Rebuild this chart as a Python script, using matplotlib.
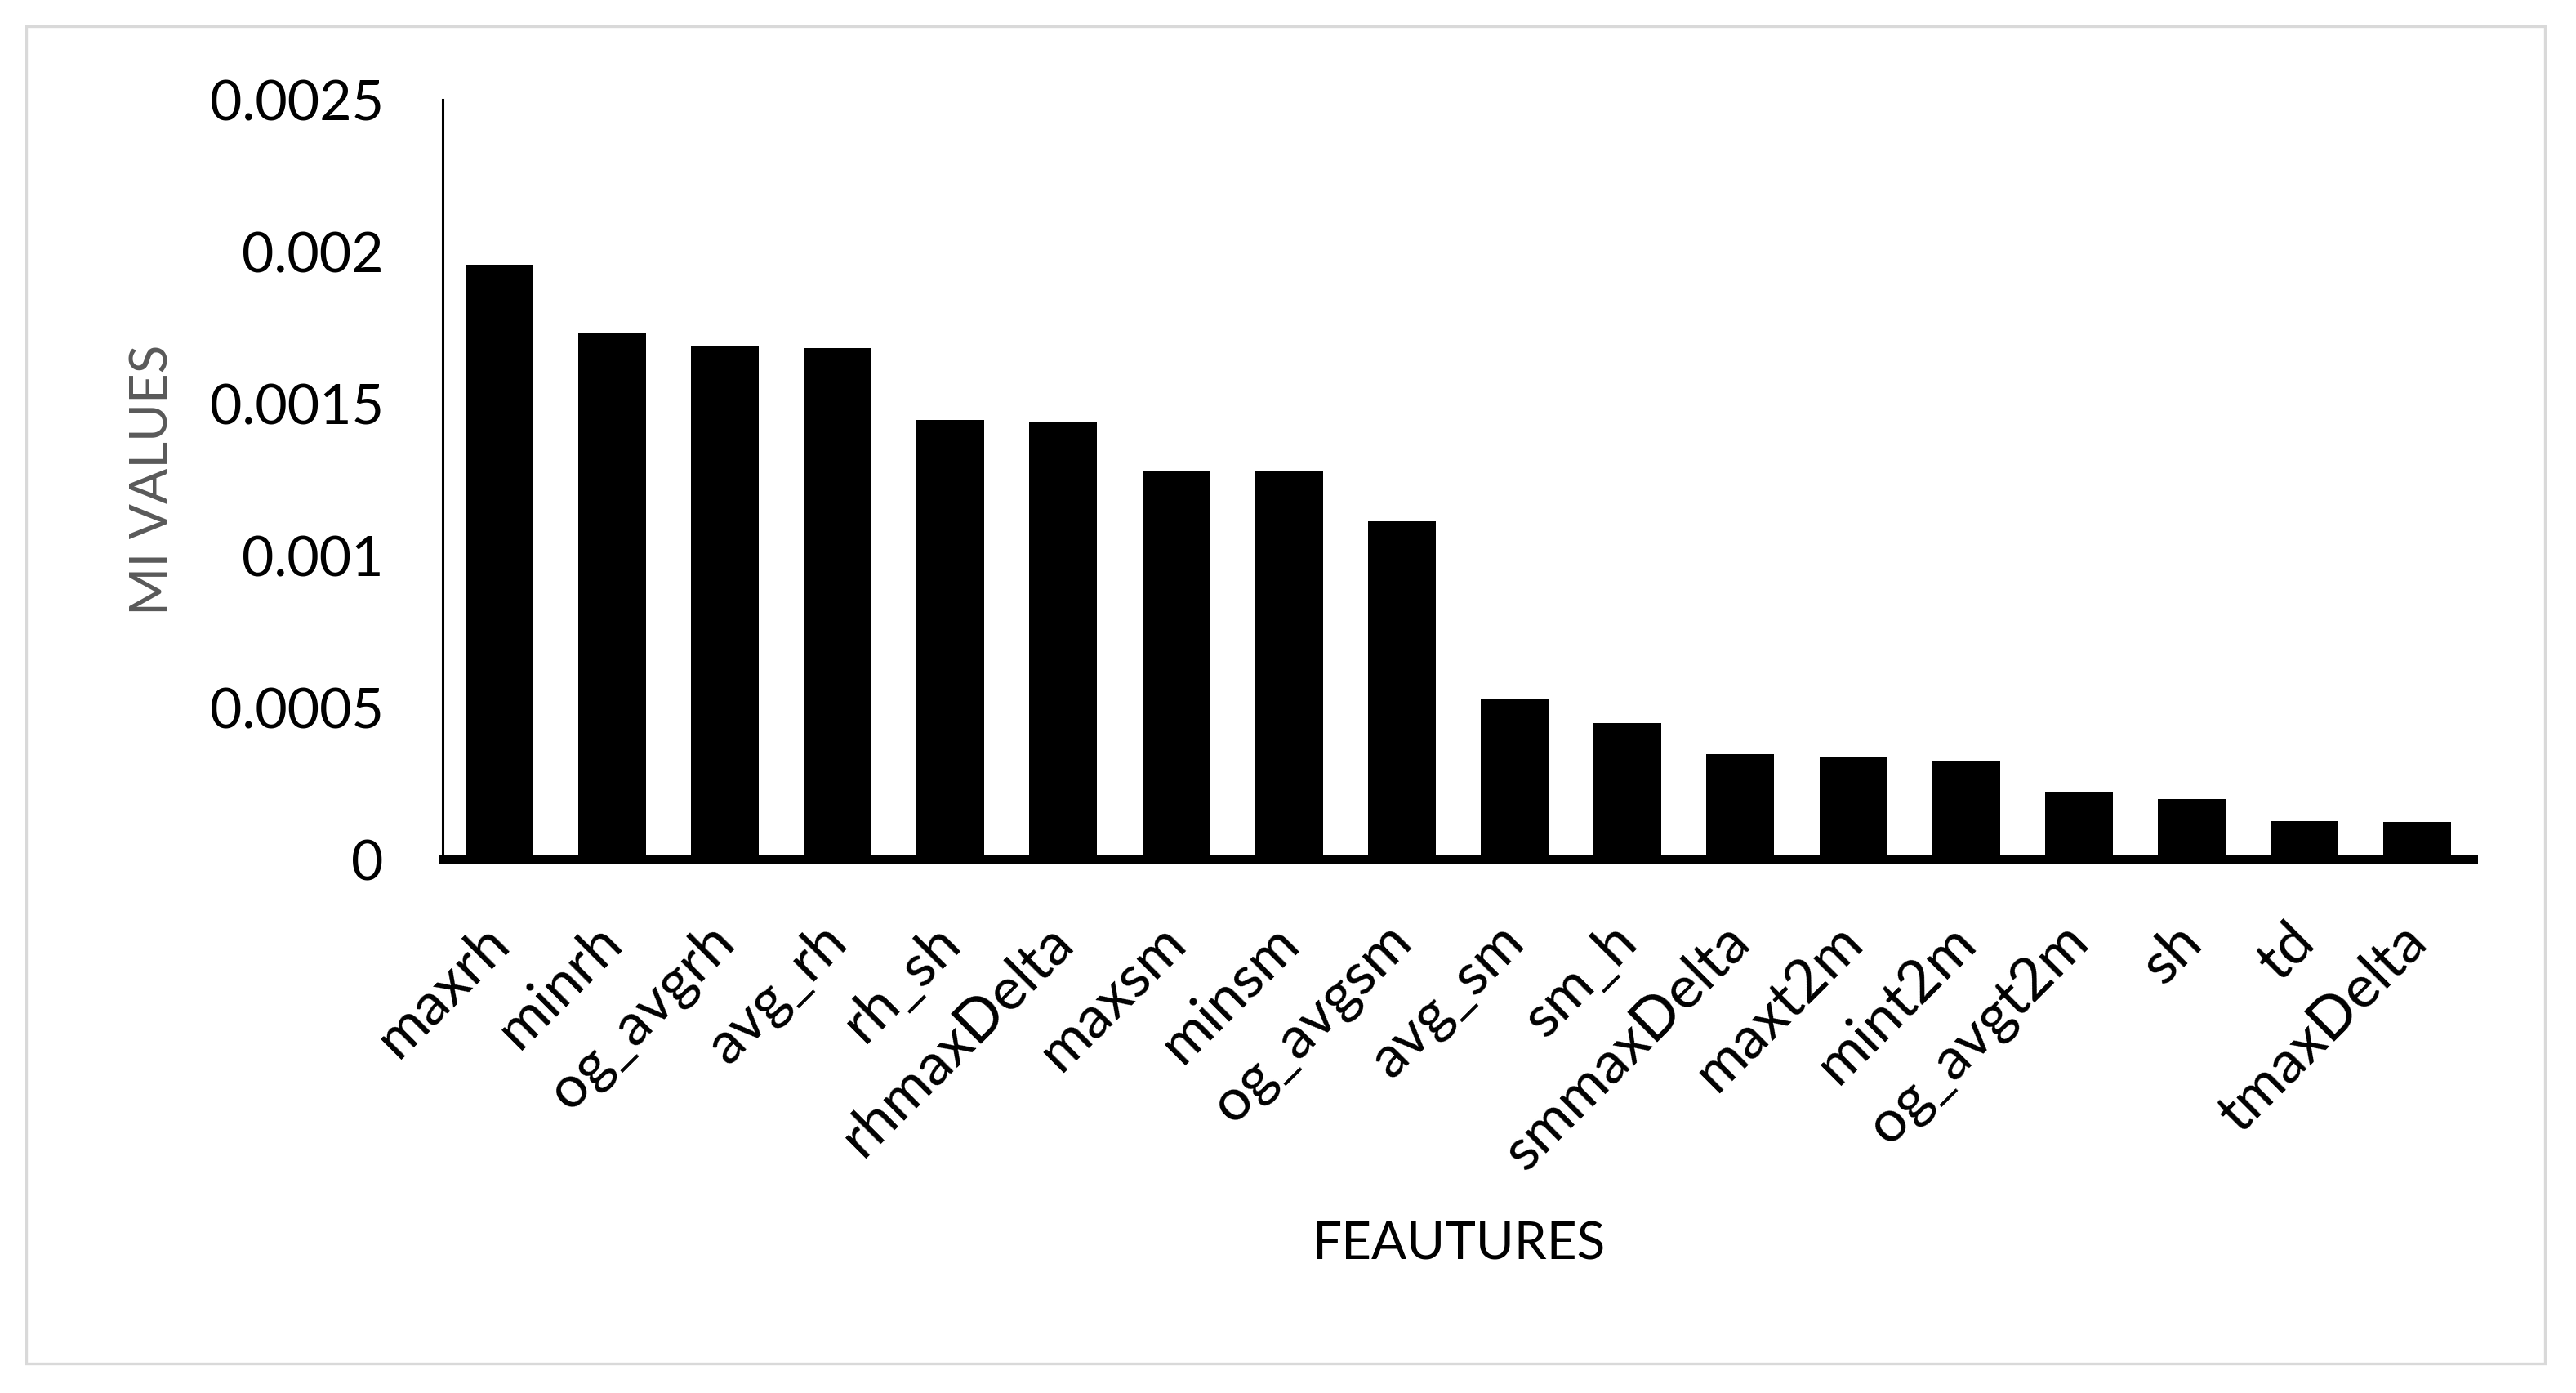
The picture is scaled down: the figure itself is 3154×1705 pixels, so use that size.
import matplotlib
matplotlib.use("Agg")
import matplotlib.pyplot as plt
import matplotlib.transforms as mtransforms
from matplotlib.patches import Rectangle

features = ["maxrh", "minrh", "og_avgrh", "avg_rh", "rh_sh", "rhmaxDelta",
            "maxsm", "minsm", "og_avgsm", "avg_sm", "sm_h", "smmaxDelta",
            "maxt2m", "mint2m", "og_avgt2m", "sh", "td", "tmaxDelta"]
mi_values = [0.001958, 0.001732, 0.001692, 0.001682, 0.001447, 0.001438,
             0.00128, 0.001277, 0.001113, 0.000528, 0.000448, 0.000346,
             0.00034, 0.000324, 0.000221, 0.000198, 0.000127, 0.000124]
y_ticks = [0, 0.0005, 0.001, 0.0015, 0.002, 0.0025]
y_tick_labels = ["0", "0.0005", "0.001", "0.0015", "0.002", "0.0025"]

plt.rcParams['font.family'] = ['Lato', 'DejaVu Sans']

W, H, DPI = 3154, 1705, 200
fig = plt.figure(figsize=(W / DPI, H / DPI), dpi=DPI)

# light gray frame round the whole chart
fig.patches.append(Rectangle((32 / W, 1 - 1669 / H), (3116 - 32) / W,
                             (1669 - 32) / H, transform=fig.transFigure,
                             fill=False, edgecolor="#d9d9d9", linewidth=1.2))

ax = fig.add_axes([542 / W, 1 - 1052 / H, (3029 - 542) / W, (1052 - 122) / H])
x = range(len(features))
ax.bar(x, mi_values, width=0.6, color="black")

ax.set_xlim(-0.5, len(features) - 0.5)
ax.set_ylim(0, 0.0025)
ax.set_yticks(y_ticks)
ax.set_yticklabels(y_tick_labels, fontsize=24.5)
ax.set_xticks(list(x))
ax.set_xticklabels(features, fontsize=26, rotation=45, ha="right",
                   rotation_mode="anchor")
ax.tick_params(axis="y", length=0, pad=26)
ax.tick_params(axis="x", length=0, pad=24)

# nudge the rotated names a little to the left
shift = mtransforms.ScaledTranslation(-8 / 72, 0, fig.dpi_scale_trans)
for lbl in ax.get_xticklabels():
    lbl.set_transform(lbl.get_transform() + shift)

for side in ["top", "right"]:
    ax.spines[side].set_visible(False)
ax.spines["left"].set_linewidth(1.1)
ax.spines["bottom"].set_linewidth(3.6)

ax.set_ylabel("MI VALUES", fontsize=23, color="#595959", va="center")
ax.yaxis.set_label_coords(-0.1427, 0.5)
ax.set_xlabel("FEAUTURES", fontsize=23, color="black", va="center")
ax.xaxis.set_label_coords(0.5, -0.5075)

fig.savefig("out.png", dpi=DPI)
